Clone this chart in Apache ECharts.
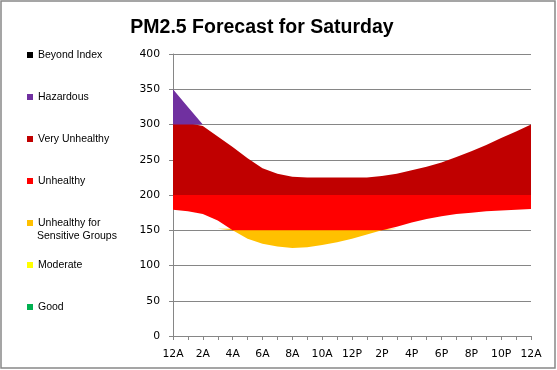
<!DOCTYPE html>
<html>
<head>
<meta charset="utf-8">
<script src="https://cdn.jsdelivr.net/npm/echarts@6/dist/echarts.min.js"></script>
<style>
html,body{margin:0;padding:0;background:#fff;}
#chart{width:557px;height:370px;}
</style>
</head>
<body>
<div id="chart"></div>
<script>
// Hour categories (x axis)
const hours = ['12A','1A','2A','3A','4A','5A','6A','7A','8A','9A','10A','11A','12P','1P','2P','3P','4P','5P','6P','7P','8P','9P','10P','11P','12A'];
// Forecast range: upper and lower PM2.5 bounds per hour
const upper = [350,325,298,283,268,252,238,230,226,225,225,225,225,225,227,230,235,240,246,254,262,271,281,290,300];
const lower = [179,177,173,164,150,138,131,127,125,126,129,133,138,144,150,155,161,166,170,173,175,177,178,179,180];
// AQI bands
const bandNames = ['Good','Moderate','Unhealthy for Sensitive Groups','Unhealthy','Very Unhealthy','Hazardous','Beyond Index'];
const bandLo = [0,50,100,150,200,300,500];
const bandHi = [50,100,150,200,300,500,1000];
const bandColors = ['#00B050','#FFFF00','#FFC000','#FF0000','#C00000','#7030A0','#000000'];
// Y axis ticks
const yMin = 0, yMax = 400, yStep = 50;

const EPS = 2;
const clamp = (v, lo, hi) => Math.max(lo, Math.min(hi, v));

const series = [];
bandNames.forEach((name, i) => {
  const lo = bandLo[i], hi = bandHi[i] + EPS;
  const base = lower.map(v => clamp(v, lo, hi));
  const top = upper.map(v => clamp(v, lo, hi));
  const fill = top.map((t, k) => t - base[k]);
  series.push({
    name: '_base' + i, type: 'line', stack: 'band' + i, data: base,
    symbol: 'none', silent: true, lineStyle: {opacity: 0, width: 0},
    z: 2 + i, animation: false
  });
  series.push({
    name: name, type: 'line', stack: 'band' + i, data: fill,
    symbol: 'none', silent: true, color: bandColors[i],
    itemStyle: {color: bandColors[i]},
    lineStyle: {width: 0, opacity: 0},
    areaStyle: {color: bandColors[i], opacity: 1},
    z: 2 + i, animation: false
  });
});

// Legend layout (top-to-bottom as in the reference)
const legendOrder = ['Beyond Index','Hazardous','Very Unhealthy','Unhealthy','Unhealthy for Sensitive Groups','Moderate','Good'];
const legendY = [55,97,139,181,223,265,307];
const legendFont = {fontFamily: 'Liberation Sans', fontSize: 10.5, color: '#000', lineHeight: 14};
const legends = legendOrder.map((n, i) => ({
  data: [{name: n, icon: 'rect'}],
  left: 27, top: legendY[i] - 7, padding: 0,
  itemWidth: 6, itemHeight: 6, selectedMode: false,
  textStyle: legendFont,
  formatter: (s) => s === 'Unhealthy for Sensitive Groups' ? 'Unhealthy for' : s
}));

const chart = echarts.init(document.getElementById('chart'), null, {renderer: 'canvas'});
chart.setOption({
  animation: false,
  title: {
    text: 'PM2.5 Forecast for Saturday', left: 257, top: 13, textAlign: 'center',
    textStyle: {fontFamily: 'Liberation Sans', fontWeight: 'bold', fontSize: 19.5, color: '#000'}
  },
  legend: legends,
  grid: {left: 173, right: 26, top: 54, bottom: 34, containLabel: false},
  xAxis: {
    type: 'category', data: hours, boundaryGap: false,
    axisLine: {lineStyle: {color: '#868686', width: 1}},
    axisTick: {interval: 0, length: 4, lineStyle: {color: '#868686'}},
    axisLabel: {interval: 1, margin: 13, color: '#000', fontFamily: 'DejaVu Sans', fontSize: 10.8},
    splitLine: {show: false}
  },
  yAxis: {
    type: 'value', min: yMin, max: yMax, interval: yStep,
    axisLine: {show: true, lineStyle: {color: '#868686', width: 1}},
    axisTick: {show: true, length: 4, lineStyle: {color: '#868686'}},
    axisLabel: {margin: 13, color: '#000', fontFamily: 'DejaVu Sans', fontSize: 10.8},
    splitLine: {show: true, lineStyle: {color: '#868686', width: 1}}
  },
  graphic: [
    {type: 'rect', shape: {x: 1, y: 1, width: 554, height: 367}, style: {fill: 'none', stroke: '#888', lineWidth: 1.5}, silent: true, z: 100},
    {type: 'text', left: 37, top: 231, style: {text: 'Sensitive Groups', font: '10.5px "Liberation Sans"', fill: '#000'}, silent: true}
  ],
  series: series
});
</script>
</body>
</html>
